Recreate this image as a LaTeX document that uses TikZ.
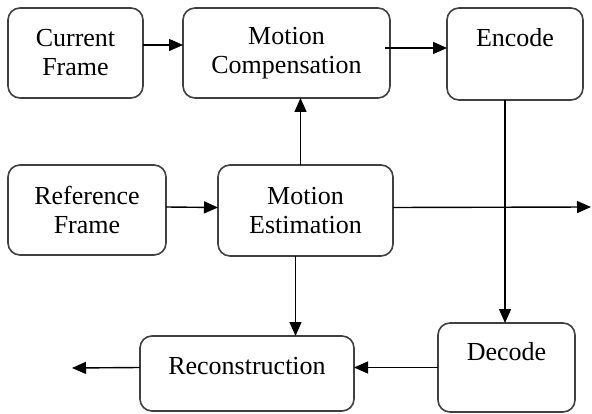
\documentclass[tikz,border=0pt]{standalone}
\usepackage{fontspec}
\setmainfont{Liberation Serif}
\usetikzlibrary{arrows.meta}
\tikzset{
blockbox/.style={draw=black!75, line width=1.6pt, rounded corners=12pt, fill=white,
  inner sep=0pt, outer sep=0pt, anchor=north west, align=center,
  font=\rmfamily\fontsize{26}{29}\selectfont},
flow/.style={line width=1.4pt, -{Triangle[length=14pt,width=12pt]}}
}
\begin{document}
\begin{tikzpicture}[x=1pt,y=-1pt]
\useasboundingbox (0,0) rectangle (592,414);
% top row
\node[blockbox, minimum width=135pt, minimum height=90pt] (cur) at (8,8) {Current\\Frame};
\node[blockbox, minimum width=207pt, minimum height=90pt] (mc) at (183,8) {Motion\\Compensation};
\node[blockbox, minimum width=136pt, text height=39pt, text depth=53pt] (enc) at (447,8) {Encode};
% middle row
\node[blockbox, minimum width=158pt, minimum height=90pt] (ref) at (8,165) {Reference\\Frame};
\node[blockbox, minimum width=175pt, minimum height=91pt] (me) at (218,165) {Motion\\Estimation};
% bottom row
\node[blockbox, minimum width=214pt, text height=38pt, text depth=37pt] (rec) at (140,336) {Reconstruction};
\node[blockbox, minimum width=137pt, text height=37pt, text depth=52pt] (dec) at (438,323) {Decode};
\coordinate (outR) at (591,207);
\coordinate (outL) at (72,368);
% connectors
\draw[flow] ([yshift=8pt]cur.east) -- ([yshift=8pt]mc.west);
\draw[flow] ([xshift=-5pt,yshift=5pt]mc.east) -- ([yshift=6pt]enc.west);
\draw[flow] ([yshift=3pt]ref.east) -- ([yshift=3pt]me.west);
\draw[flow] ([yshift=3pt]me.east) -- (outR);
\draw[flow] ([xshift=-5pt]me.north) -- ([xshift=-5pt]me.north |- mc.south);
\draw[flow] ([xshift=-10pt]enc.south) -- ([xshift=-10pt]enc.south |- dec.north);
\draw[flow] ([xshift=-10pt]me.south) -- ([xshift=-10pt]me.south |- rec.north);
\draw[flow] (dec.west) -- (rec.east |- dec.west);
\draw[flow] (rec.west |- dec.west) -- (outL);
\end{tikzpicture}
\end{document}
